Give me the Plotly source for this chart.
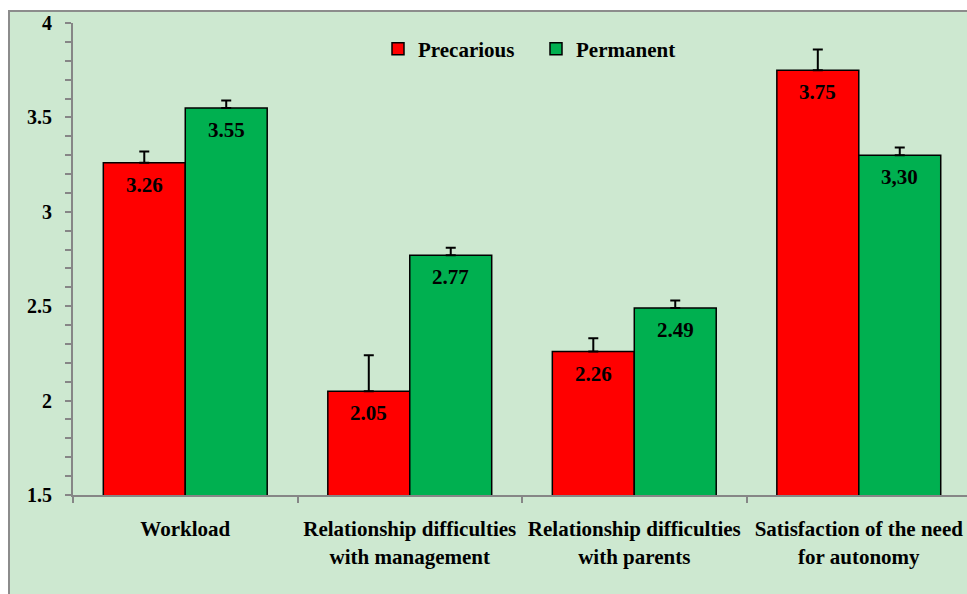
import plotly.graph_objects as go

categories = ["Workload",
              "Relationship difficulties<br>with management",
              "Relationship difficulties<br>with parents",
              "Satisfaction of the need<br>for autonomy"]
precarious = [3.26, 2.05, 2.26, 3.75]
permanent = [3.55, 2.77, 2.49, 3.30]
precarious_err = [0.06, 0.19, 0.07, 0.11]
permanent_err = [0.04, 0.04, 0.04, 0.04]
precarious_labels = ["3.26", "2.05", "2.26", "3.75"]
permanent_labels = ["3.55", "2.77", "2.49", "3,30"]
y_ticks = [1.5, 2, 2.5, 3, 3.5, 4]
y_tick_text = ["1.5", "2", "2.5", "3", "3.5", "4"]

W, H = 967, 594
ML, MT, MB, MR = 73, 23, 99, 0
PW, PH = W - ML - MR, H - MT - MB

BG = "#cde8d0"
AX = "#868686"
FAM = "Liberation Serif, Times New Roman, serif"
BOLD = dict(family=FAM, size=21, color="#000000", weight="bold")
TICK = dict(family=FAM, size=20, color="#000000", weight="bold")

bargap = 0.27
offset = (1 - bargap) / 4

fig = go.Figure()
fig.add_trace(go.Bar(
    name="Precarious", x=categories, y=precarious,
    marker=dict(color="#ff0000", line=dict(color="#000000", width=1.5)),
    error_y=dict(type="data", symmetric=False, array=precarious_err,
                 arrayminus=[0] * len(precarious_err),
                 color="#000000", thickness=2, width=5),
))
fig.add_trace(go.Bar(
    name="Permanent", x=categories, y=permanent,
    marker=dict(color="#00b050", line=dict(color="#000000", width=1.5)),
    error_y=dict(type="data", symmetric=False, array=permanent_err,
                 arrayminus=[0] * len(permanent_err),
                 color="#000000", thickness=2, width=5),
))

annotations = []
for i, (v, t) in enumerate(zip(precarious, precarious_labels)):
    annotations.append(dict(x=i - offset, y=v, xref="x", yref="y", text=t,
                            showarrow=False, yanchor="middle", yshift=-22, font=BOLD))
for i, (v, t) in enumerate(zip(permanent, permanent_labels)):
    annotations.append(dict(x=i + offset, y=v, xref="x", yref="y", text=t,
                            showarrow=False, yanchor="middle", yshift=-22, font=BOLD))

# outer frame of the chart area (extends past the right/bottom image edge)
x0 = (9 - ML) / PW
y1 = 1 + (MT - 11) / PH
shapes = [dict(type="rect", xref="paper", yref="paper",
               x0=x0, x1=1.1, y0=-0.5, y1=y1,
               fillcolor=BG, line=dict(color="#8c8c8c", width=2), layer="below")]

fig.update_layout(
    width=W, height=H,
    margin=dict(l=ML, r=MR, t=MT, b=MB, pad=0),
    paper_bgcolor="#ffffff",
    plot_bgcolor="rgba(0,0,0,0)",
    barmode="group", bargap=bargap, bargroupgap=0,
    font=BOLD,
    showlegend=True,
    legend=dict(orientation="h", x=(378 - ML) / PW, y=1 - (49 - MT) / PH,
                xanchor="left", yanchor="middle", bgcolor="rgba(0,0,0,0)",
                font=BOLD, entrywidth=113, entrywidthmode="pixels"),
    annotations=annotations,
    shapes=shapes,
    xaxis=dict(type="category", range=[-0.5, 3.482],
               showline=True, linecolor=AX, linewidth=2,
               ticks="outside", tickson="boundaries", ticklen=6, tickcolor=AX, tickwidth=2,
               showgrid=False, zeroline=False, tickfont=BOLD, ticklabelstandoff=14),
    yaxis=dict(range=[1.5, 4], tickvals=y_ticks, ticktext=y_tick_text,
               showline=True, linecolor=AX, linewidth=2,
               ticks="outside", ticklen=6, tickcolor=AX, tickwidth=2,
               minor=dict(dtick=0.1, ticks="outside", ticklen=6, tickcolor=AX, tickwidth=2, showgrid=False),
               showgrid=False, zeroline=False, tickfont=TICK, ticklabelstandoff=9),
)

fig.write_html("out.html", config={"displayModeBar": False},
               post_script="document.body.style.margin='0';document.body.style.overflow='hidden';")
